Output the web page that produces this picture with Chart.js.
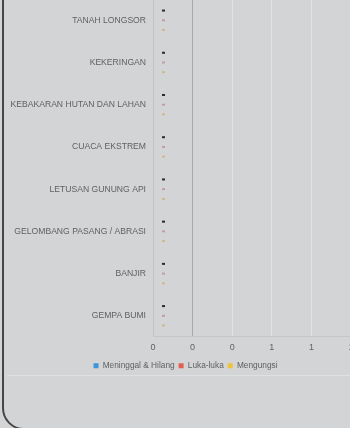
<!DOCTYPE html>
<html>
<head>
<meta charset="utf-8">
<script src="https://cdn.jsdelivr.net/npm/chart.js@4.4.1/dist/chart.umd.min.js"></script>
<style>
  html, body { margin: 0; padding: 0; }
  body { width: 350px; height: 428px; overflow: hidden; background: #d3d4d6; position: relative; font-family: "Liberation Sans", Arial, sans-serif; }
  .kartu { position: absolute; left: 2px; top: -60px; width: 420px; height: 490px; border: 2px solid #464646; border-radius: 22px; box-sizing: border-box; }
  .grafik { position: absolute; left: 4px; top: -13px; width: 363px; height: 393px; }
  .garis { position: absolute; left: 7px; top: 375px; width: 400px; height: 0; border-top: 1px solid #dfe0e2; }
</style>
</head>
<body>
<div class="kartu"></div>
<div class="garis"></div>
<div class="grafik"><canvas id="grafikBencana"></canvas></div>
<script>
// data per jenis bencana
const jenisBencana = [
  "TANAH LONGSOR",
  "KEKERINGAN",
  "KEBAKARAN HUTAN DAN LAHAN",
  "CUACA EKSTREM",
  "LETUSAN GUNUNG API",
  "GELOMBANG PASANG / ABRASI",
  "BANJIR",
  "GEMPA BUMI"
];
const meninggalHilang = [0, 0, 0, 0, 0, 0, 0, 0];
const lukaLuka = [0, 0, 0, 0, 0, 0, 0, 0];
const mengungsi = [0, 0, 0, 0, 0, 0, 0, 0];
const labelSumbuX = ["0", "0", "0", "1", "1", "1"];

const warnaTanda = ["#2b2b2b", "#c69c9c", "#cbbb8c"];
const huruf = '"Liberation Sans", Arial, sans-serif';

// tanda kecil di ujung tiap batang
const tandaNilai = {
  id: "tandaNilai",
  afterDatasetsDraw(chart) {
    const ctx = chart.ctx;
    chart.data.datasets.forEach((ds, i) => {
      chart.getDatasetMeta(i).data.forEach(bar => {
        ctx.fillStyle = warnaTanda[i];
        ctx.fillRect(bar.x + 9, bar.y - 1, 3, 2);
      });
    });
  }
};

const ctx = document.getElementById("grafikBencana").getContext("2d");
new Chart(ctx, {
  type: "bar",
  data: {
    labels: jenisBencana,
    datasets: [
      { label: "Meninggal & Hilang", data: meninggalHilang, backgroundColor: "#3d95dc" },
      { label: "Luka-luka", data: lukaLuka, backgroundColor: "#e2604f" },
      { label: "Mengungsi", data: mengungsi, backgroundColor: "#f0c23a" }
    ]
  },
  plugins: [tandaNilai],
  options: {
    indexAxis: "y",
    responsive: true,
    maintainAspectRatio: false,
    animation: false,
    categoryPercentage: 0.69,
    layout: { padding: 0 },
    scales: {
      x: {
        min: 0, max: 1,
        ticks: {
          stepSize: 0.2,
          padding: 5,
          color: "#606163",
          font: { family: huruf, size: 9 },
          callback: (v, i) => labelSumbuX[i]
        },
        grid: {
          drawTicks: false,
          color: c => c.index === 0 ? "#c3c4c6" : (c.index === 1 ? "#a7a8aa" : "#e1e2e4")
        },
        border: { color: "#c5c6c8" }
      },
      y: {
        ticks: {
          padding: 7,
          color: "#606163",
          font: { family: huruf, size: 8.6 }
        },
        grid: { display: false, drawTicks: false },
        border: { color: "#c3c4c6" },
        afterFit: s => { s.width = 149; }
      },
      // ruang kosong di kanan
      kanan: {
        type: "linear",
        position: "right",
        ticks: { display: false },
        grid: { display: false, drawTicks: false },
        border: { display: false },
        afterFit: s => { s.width = 16; }
      }
    },
    plugins: {
      legend: {
        position: "bottom",
        labels: {
          boxWidth: 5, boxHeight: 5, padding: 4,
          color: "#606163",
          font: { family: huruf, size: 8.3 }
        }
      },
      tooltip: { enabled: false }
    }
  }
});
</script>
</body>
</html>
